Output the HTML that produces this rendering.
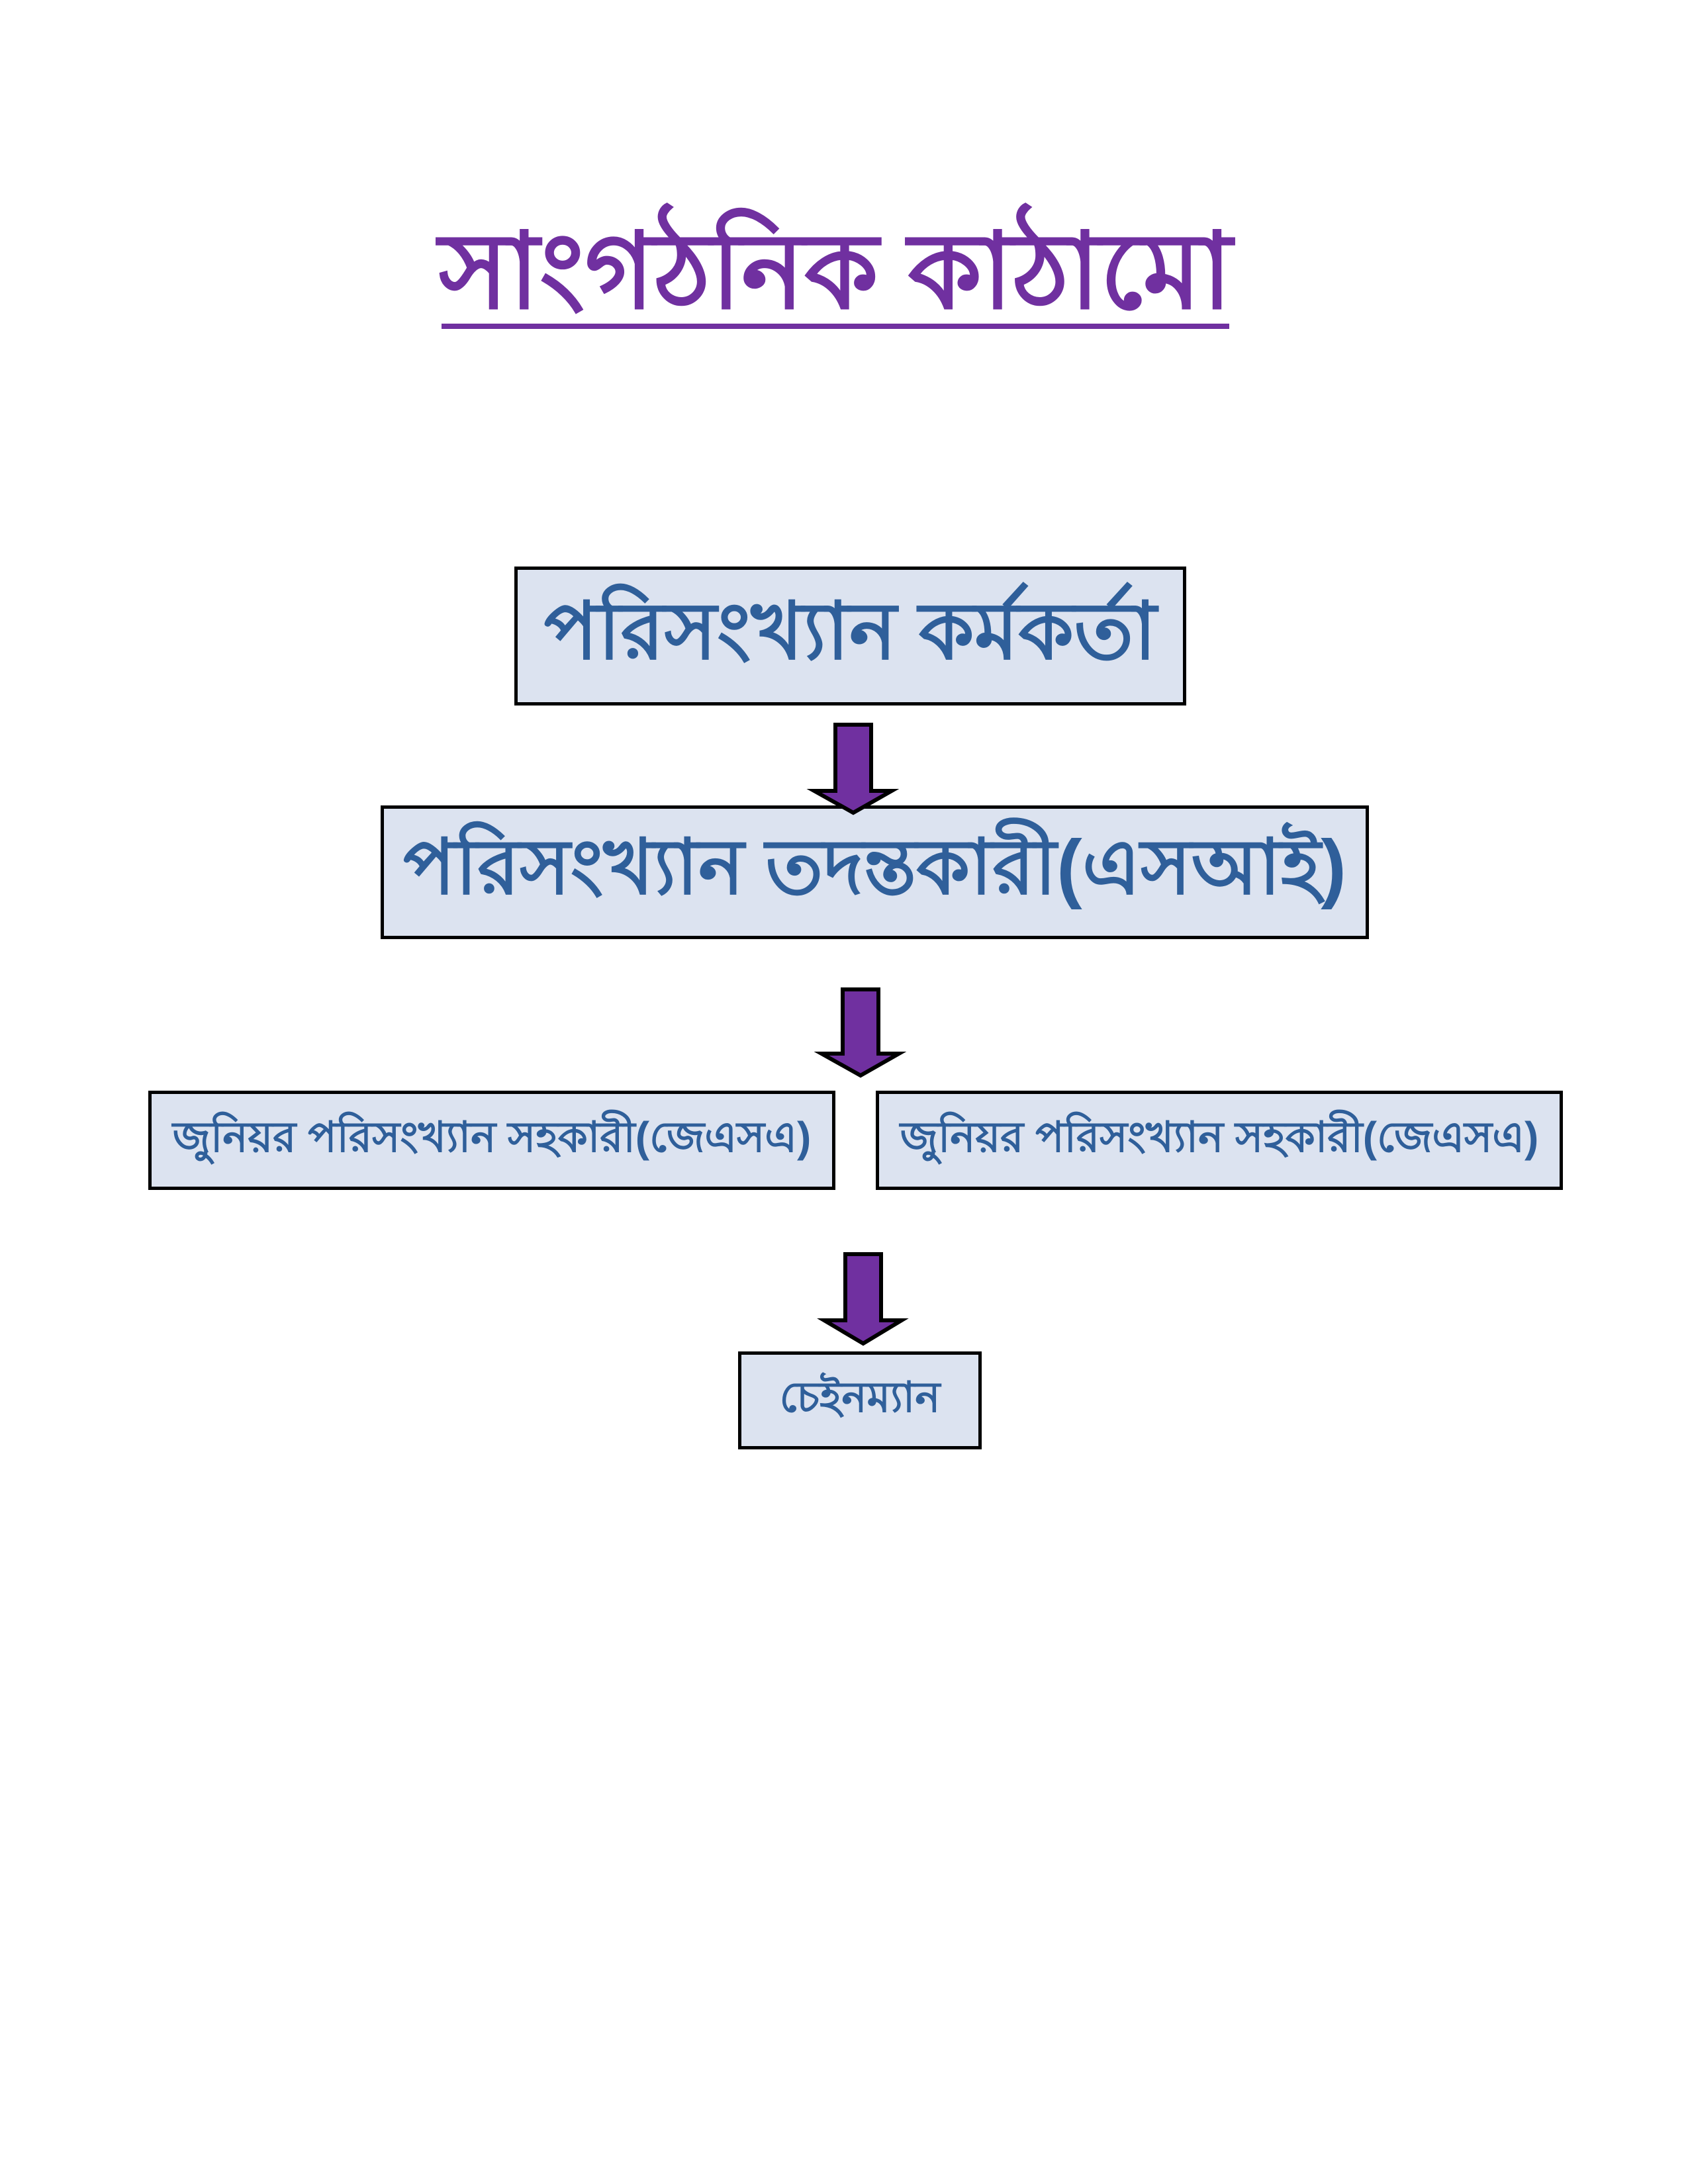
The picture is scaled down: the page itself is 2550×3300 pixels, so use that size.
<!DOCTYPE html>
<html><head><meta charset="utf-8"><style>
body{margin:0;width:2550px;height:3300px;background:#fff;position:relative;overflow:hidden;font-family:"Liberation Sans",sans-serif;}
.box{position:absolute;box-sizing:border-box;border:5px solid #000;background:#dce3f0;color:#2f5f9a;font-weight:bold;display:flex;align-items:center;justify-content:center;white-space:nowrap;}
#title{position:absolute;left:600px;top:330px;width:1324px;height:185px;color:#7030a0;font-weight:bold;font-size:160px;line-height:160px;text-align:center;white-space:nowrap;}
#ul{position:absolute;left:667px;top:489px;width:1190px;height:8px;background:#7030a0;}
svg{position:absolute;left:0;top:0;}
</style></head><body>
<div id="title">সাংগঠনিক কাঠামো</div>
<div id="ul"></div>
<div class="box" style="left:777px;top:856px;width:1015px;height:210px;font-size:120px;">পরিসংখ্যান কর্মকর্তা</div>
<div class="box" style="left:575px;top:1217px;width:1493px;height:202px;font-size:116px;">পরিসংখ্যান তদন্তকারী(এসআই)</div>
<div class="box" style="left:224px;top:1648px;width:1038px;height:150px;font-size:64px;">জুনিয়র পরিসংখ্যান সহকারী(জেএসএ)</div>
<div class="box" style="left:1323px;top:1648px;width:1038px;height:150px;font-size:64px;">জুনিয়র পরিসংখ্যান সহকারী(জেএসএ)</div>
<div class="box" style="left:1115px;top:2042px;width:368px;height:148px;font-size:64px;">চেইনম্যান</div>
<svg width="2550" height="3300">
<g fill="#7030a0" stroke="#000" stroke-width="6" stroke-linejoin="miter">
<polygon points="1262,1095 1316,1095 1316,1195 1347,1195 1289,1228 1230,1195 1262,1195"/>
<polygon points="1273,1495 1327,1495 1327,1592 1358,1592 1300,1625 1241,1592 1273,1592"/>
<polygon points="1277,1895 1331,1895 1331,1995 1362,1995 1304,2030 1245,1995 1277,1995"/>
</g>
</svg>
</body></html>
